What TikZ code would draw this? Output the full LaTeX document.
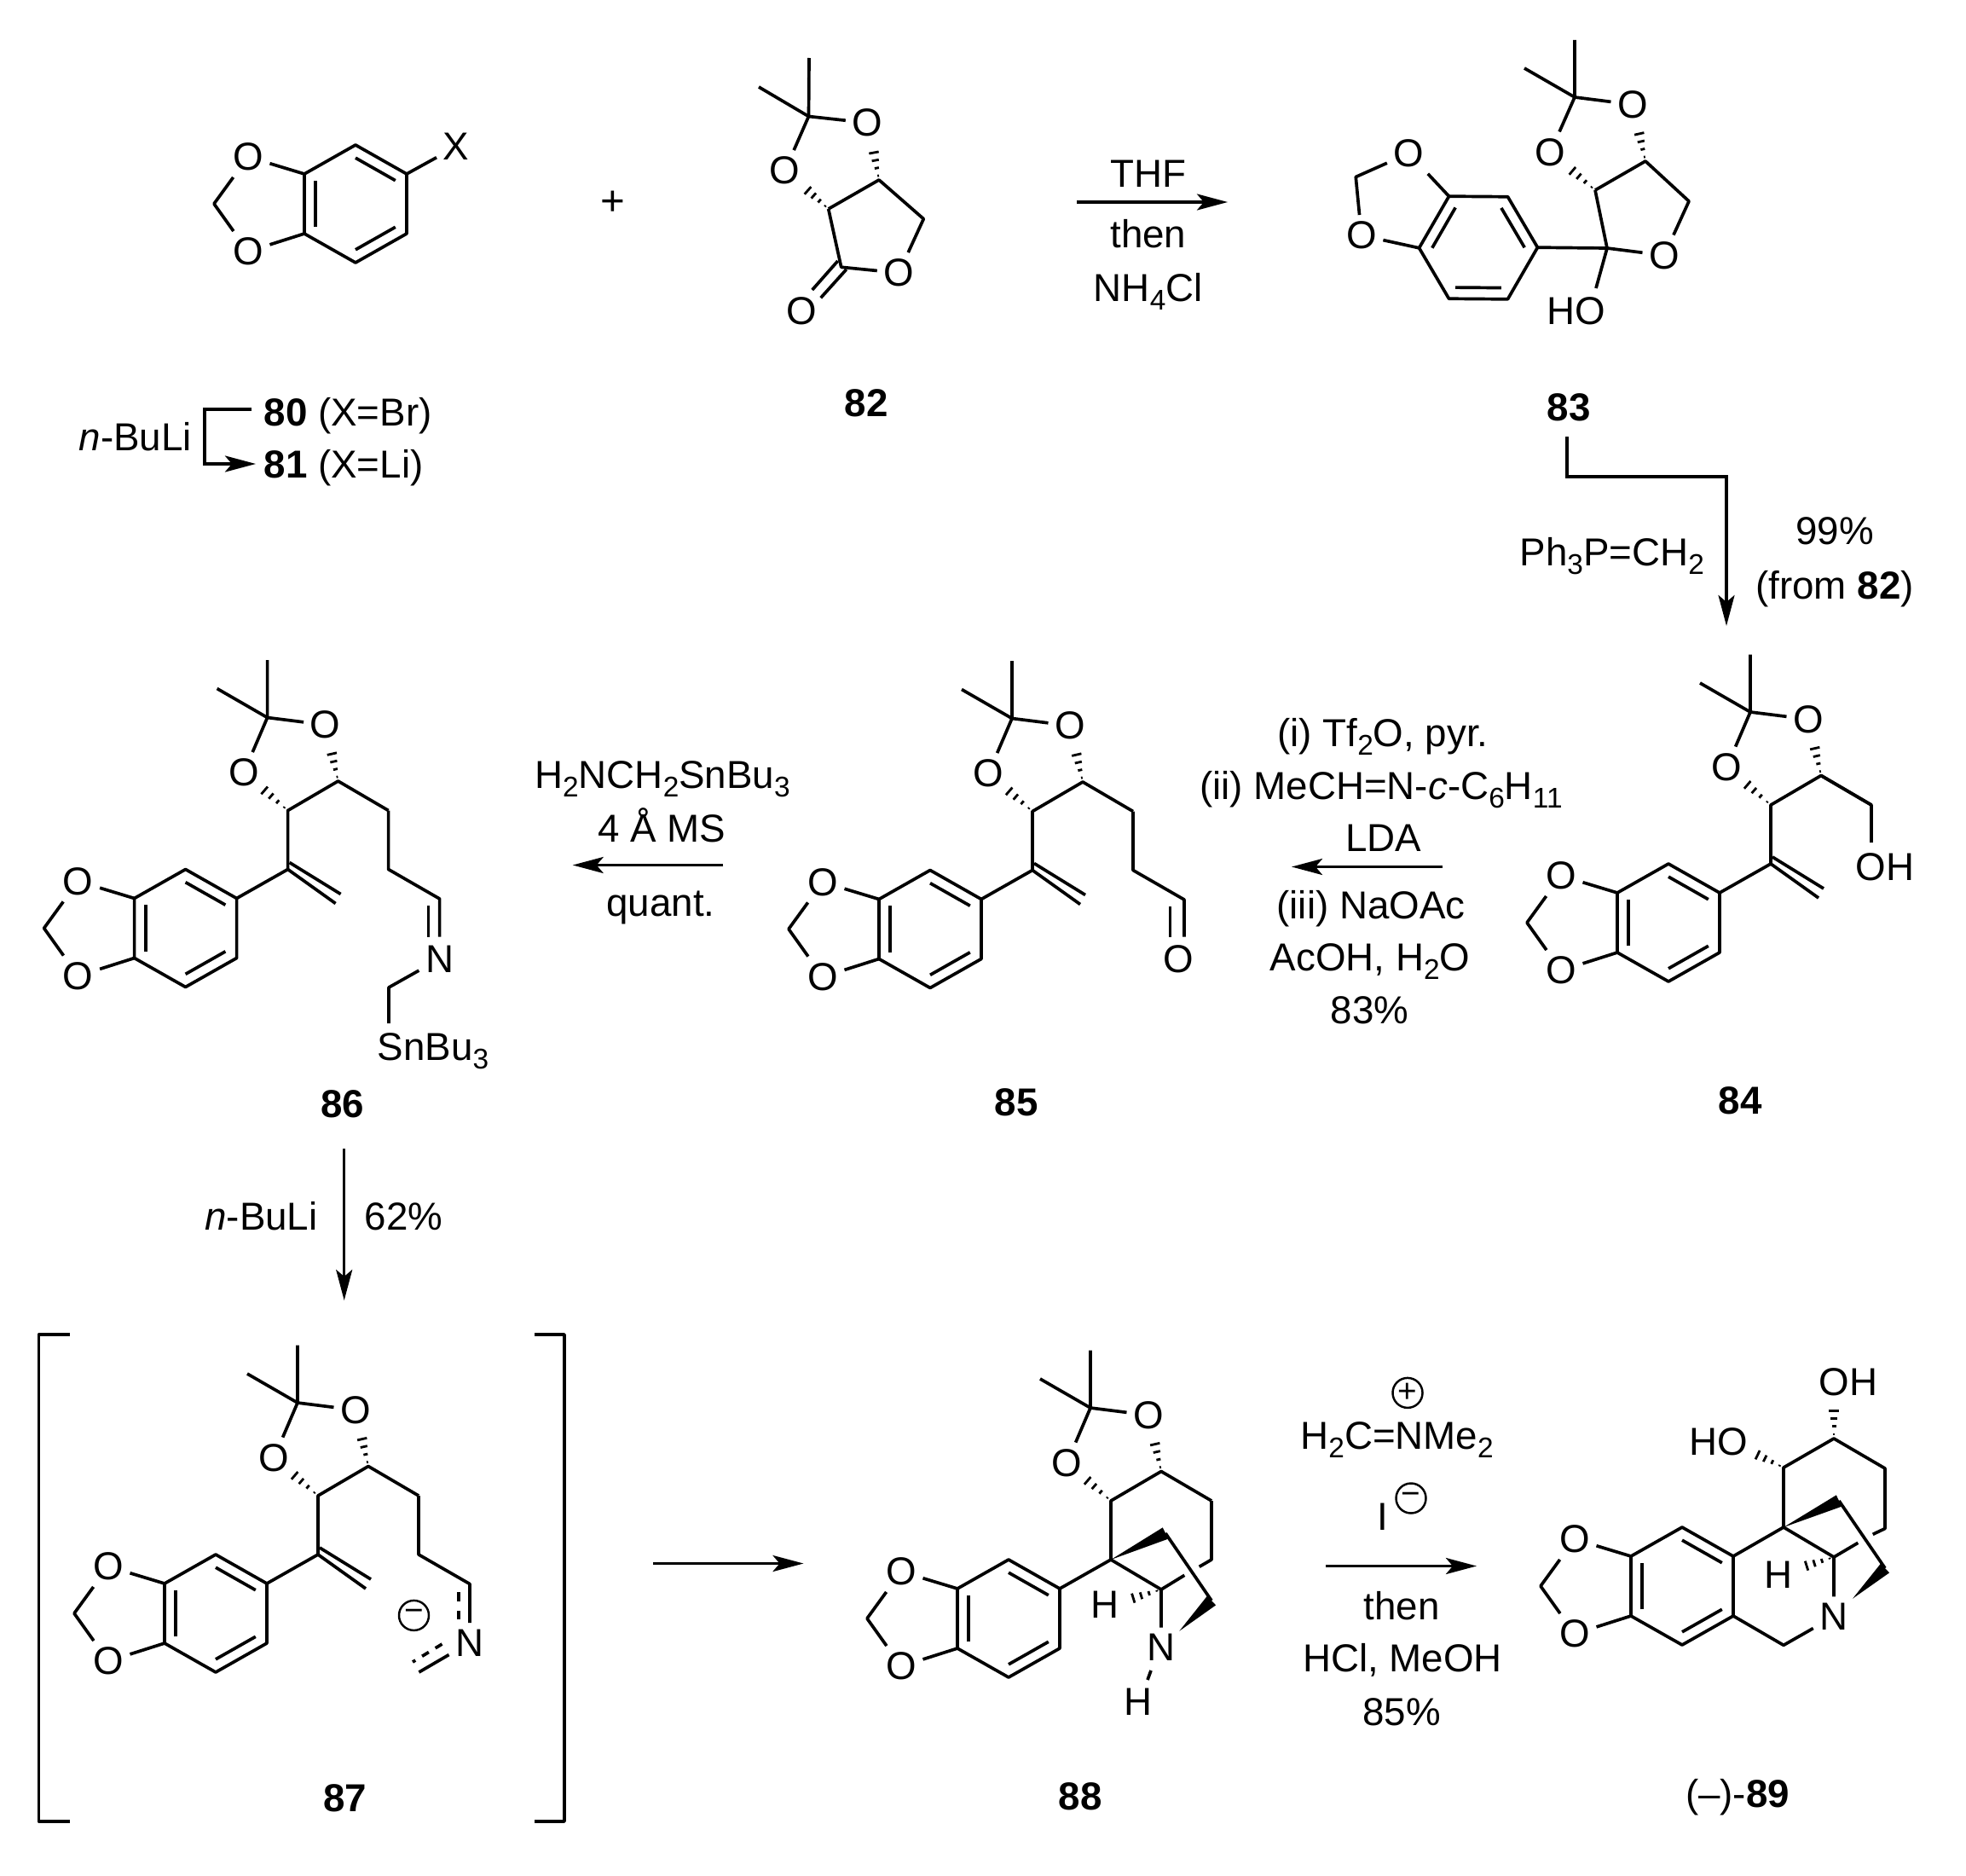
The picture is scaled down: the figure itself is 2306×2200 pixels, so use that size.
\documentclass[tikz,border=0pt]{standalone}
\usepackage{fontspec}
\setmainfont{Liberation Sans}
\usetikzlibrary{arrows.meta,calc}

\newcommand{\dn}[1]{\raisebox{-0.42ex}{\fontsize{9.5}{10}\selectfont #1}}
\newcommand{\hashb}[2]{%
  \foreach \t [evaluate=\t as \w using \t*2.1] in {0.12,0.34,0.56,0.78,1}{%
    \draw[line width=0.8pt] ($#1!\t!#2!\w pt!90:#2$) -- ($#1!\t!#2!\w pt!-90:#2$);}}
\newcommand{\wedgeb}[2]{\fill #1 -- ($#2!2.1pt!90:#1$) -- ($#2!2.1pt!-90:#1$) -- cycle;}
% name, x, y, rotation
\newcommand{\benzodiox}[4]{%
  \begin{scope}[shift={(#2,#3)},rotate=#4]
    \coordinate (#1c) at (0,0);
    \coordinate (#1a) at (0,-69);
    \coordinate (#1b) at (60,-35);
    \coordinate (#1d) at (60,35);
    \coordinate (#1e) at (0,69);
    \coordinate (#1f) at (-60,35);
    \coordinate (#1g) at (-60,-35);
    \coordinate (#1h) at (-166,0);
    \node[atom] (#1o) at (-126,-55) {O};
    \node[atom] (#1p) at (-126,56) {O};
    \draw[bond] (#1a) -- (#1b) -- (#1d) -- (#1e) -- (#1f) -- (#1g) -- cycle;
    \draw[bond] (#1g) -- (#1o) -- (#1h) -- (#1p) -- (#1f);
    \draw[bond] ($(#1a)!.22!(#1c)$) -- ($(#1b)!.22!(#1c)$);
    \draw[bond] ($(#1d)!.22!(#1c)$) -- ($(#1e)!.22!(#1c)$);
    \draw[bond] ($(#1f)!.22!(#1c)$) -- ($(#1g)!.22!(#1c)$);
  \end{scope}}
% ring plus acetonide, name, x, y
\newcommand{\core}[3]{%
  \benzodiox{#1}{#2}{#3}{0}
  \begin{scope}[shift={(#2,#3)}]
    \coordinate (#1s) at (120,-69);
    \coordinate (#1u) at (120,-138);
    \coordinate (#1v) at (179,-172.5);
    \coordinate (#1q) at (96,-247);
    \coordinate (#1w) at (238,-138);
    \coordinate (#1x) at (238,-69);
    \coordinate (#1y) at (298,-34.5);
    \node[atom] (#1k) at (68.4,-182.5) {O};
    \node[atom] (#1m) at (164,-238.5) {O};
    \coordinate (#1ke) at ($(#1u)!.68!(#1k)$);
    \coordinate (#1me) at ($(#1v)!.62!(#1m)$);
    \draw[bond] (96,-314.5) -- (#1q) -- (#1m);
    \draw[bond] (37,-281) -- (#1q) -- (#1k);
    \draw[bond] (#1b) -- (#1s) -- (#1u) -- (#1v) -- (#1w);
    \hashb{(#1u)}{(#1ke)}
    \hashb{(#1v)}{(#1me)}
  \end{scope}}
\newcommand{\vinyl}[1]{%
  \draw[bond] (#1s) -- ++(56,40);
  \draw[bond] ($(#1s)+(2,-8)$) -- ++(60,37);}

\begin{document}
\begin{tikzpicture}[
  x=0.01cm,y=-0.01cm,
  bond/.style={line width=1.05pt,line join=round},
  atom/.style={font=\fontsize{13}{15}\selectfont,inner sep=2pt},
  txt/.style={font=\fontsize{13}{15}\selectfont,inner sep=0pt,anchor=base},
  lbl/.style={font=\fontsize{13}{15}\selectfont\bfseries,inner sep=0pt,anchor=base},
  chg/.style={draw,circle,line width=0.7pt,inner sep=0pt,minimum size=0.35cm,font=\fontsize{11}{11}\selectfont},
  rxn/.style={line width=1pt,-{Stealth[length=0.36cm,width=0.19cm,inset=0.08cm]}}
]
\useasboundingbox (0,0) rectangle (2306,2200);

% 80 / 81
\benzodiox{ra}{417}{239}{0}
\node[atom] (xa) at (535,172) {X};
\draw[bond] (rab) -- (xa);
\node[txt,anchor=base west] (lbl80) at (309,499) {\textbf{80} (X=Br)};
\node[txt,anchor=base west] (lbl81) at (309,560) {\textbf{81} (X=Li)};
\node[txt,anchor=base west] (buli) at (92,528) {\textit{n}-BuLi};
\coordinate (e1) at (295,480);
\coordinate (e2) at (240,480);
\coordinate (e3) at (240,544);
\coordinate (e4) at (300,544);
\draw[rxn] (e1) -- (e2) -- (e3) -- (e4);
\node[txt] (plus) at (718.7,252) {\fontsize{14}{15}\selectfont +};

% 82
\coordinate (bq) at (948.5,136.5);
\coordinate (bu) at (971.7,245);
\coordinate (bv) at (1031,211);
\coordinate (bw) at (1083.3,256.7);
\coordinate (bc) at (986.7,313.3);
\node[atom] (bo1) at (920.7,200) {O};
\node[atom] (bo2) at (1017.3,144) {O};
\node[atom] (bo3) at (1054.3,320) {O};
\node[atom] (bo4) at (940,365) {O};
\coordinate (bo1e) at (940.7,217.3);
\coordinate (bo2e) at (1023.3,170);
\draw[bond] (949,68) -- (bq) -- (bo2);
\draw[bond] (890,102) -- (bq) -- (bo1);
\draw[bond] (bu) -- (bv) -- (bw) -- (bo3) -- (bc) -- (bu);
\draw[bond] (982.7,306) -- (952.7,340);
\draw[bond] (992.7,316) -- (962.7,349.3);
\hashb{(bu)}{(bo1e)}
\hashb{(bv)}{(bo2e)}
\node[lbl] (lbl82) at (1016,488.5) {82};

% THF step
\coordinate (a1s) at (1263,237);
\coordinate (a1e) at (1440,237);
\draw[rxn] (a1s) -- (a1e);
\node[txt] (thf) at (1346.8,220) {THF};
\node[txt] (then1) at (1346.8,291) {then};
\node[txt] (nh4) at (1346.8,353) {NH\dn{4}Cl};

% 83
\benzodiox{rc}{1734}{290.5}{-30}
\coordinate (cq) at (1847,114);
\coordinate (cu) at (1871,223);
\coordinate (cv) at (1930,189);
\coordinate (cw) at (1981,236);
\coordinate (cc) at (1885,291);
\coordinate (ce) at (1872,338);
\node[atom] (co1) at (1818.5,178.4) {O};
\node[atom] (co2) at (1915,122.6) {O};
\node[atom] (co3) at (1952,299.5) {O};
\node[atom] (coh) at (1848.7,365) {HO};
\coordinate (co1e) at ($(cu)!.65!(co1)$);
\coordinate (co2e) at ($(cv)!.62!(co2)$);
\draw[bond] (1847,47) -- (cq) -- (co2);
\draw[bond] (1788,80) -- (cq) -- (co1);
\draw[bond] (cu) -- (cv) -- (cw) -- (co3) -- (cc) -- (cu);
\draw[bond] (rcb) -- (cc) -- (ce);
\hashb{(cu)}{(co1e)}
\hashb{(cv)}{(co2e)}
\node[lbl] (lbl83) at (1840,493.5) {83};

% 83 to 84
\coordinate (a2s) at (1838,512);
\coordinate (a2m) at (1838,559);
\coordinate (a2n) at (2025,559);
\coordinate (a2e) at (2025,734);
\draw[rxn] (a2s) -- (a2m) -- (a2n) -- (a2e);
\node[txt] (wit) at (1890.7,663) {Ph\dn{3}P=CH\dn{2}};
\node[txt] (y99) at (2152,638) {99\%};
\node[txt] (from82) at (2152,702) {(from \textbf{82})};

% 84
\core{rd}{1957}{1082}
\vinyl{rd}
\node[atom] (doh) at (2211,1017) {OH};
\draw[bond] (rdv) -- (2195,944) -- (2195,988);
\node[lbl] (lbl84) at (2041,1306) {84};

% 84 to 85
\coordinate (a3s) at (1692,1016.5);
\coordinate (a3e) at (1515,1016.5);
\draw[rxn] (a3s) -- (a3e);
\node[txt] (r1) at (1622,875) {(i) Tf\dn{2}O, pyr.};
\node[txt] (r2) at (1620,937) {(ii) MeCH=N-\textit{c}-C\dn{6}H\dn{11}};
\node[txt] (r3) at (1622.5,998) {LDA};
\node[txt] (r4) at (1608,1077) {(iii) NaOAc};
\node[txt] (r5) at (1607,1138) {AcOH, H\dn{2}O};
\node[txt] (r6) at (1606.5,1200) {83\%};

% 85
\core{re}{1091}{1089.5}
\vinyl{re}
\node[atom] (eo) at (1382,1124.5) {O};
\draw[bond] (rew) -- (rex) -- (rey) -- ++(0,43.5);
\draw[bond] ($(rey)+(-16.5,8)$) -- ++(0,36);
\node[lbl] (lbl85) at (1192,1308) {85};

% 85 to 86
\coordinate (a4s) at (848.3,1014.5);
\coordinate (a4e) at (671.7,1014.5);
\draw[rxn] (a4s) -- (a4e);
\node[txt] (s1) at (777,924) {H\dn{2}NCH\dn{2}SnBu\dn{3}};
\node[txt] (s2) at (776,987) {4 Å MS};
\node[txt] (s3) at (775,1074) {quant.};

% 86
\core{rf}{217.6}{1088.5}
\vinyl{rf}
\node[atom] (fn) at (515.6,1124.5) {N};
\coordinate (fz) at (456,1158);
\node[txt,anchor=base west] (fsn) at (442,1243) {SnBu\dn{3}};
\draw[bond] (rfw) -- (rfx) -- (rfy) -- ++(0,44.5);
\draw[bond] ($(rfy)+(-13,8)$) -- ++(0,37);
\draw[bond] (fn) -- (fz) -- ++(0,42);
\node[lbl] (lbl86) at (401.5,1310) {86};

% 86 to 87
\coordinate (a5s) at (403.7,1347);
\coordinate (a5e) at (403.7,1525);
\draw[rxn] (a5s) -- (a5e);
\node[txt] (buli2) at (306.5,1442) {\textit{n}-BuLi};
\node[txt] (y62) at (473.7,1442) {62\%};

% 87
\coordinate (bl1) at (82,1565);
\coordinate (bl2) at (45.5,1565);
\coordinate (bl3) at (45.5,2136);
\coordinate (bl4) at (82,2136);
\coordinate (br1) at (627,1565);
\coordinate (br2) at (662,1565);
\coordinate (br3) at (662,2136);
\coordinate (br4) at (627,2136);
\draw[bond] (bl1) -- (bl2) -- (bl3) -- (bl4);
\draw[bond] (br1) -- (br2) -- (br3) -- (br4);
\core{rg}{253}{1892}
\vinyl{rg}
\node[atom] (gn) at (550.8,1926.4) {N};
\draw[bond] (rgw) -- (rgx) -- (rgy) -- ++(0,45.5);
\draw[bond,dash pattern=on 3pt off 3.2pt] ($(rgy)+(-13,9.5)$) -- ++(0,36);
\draw[bond] (gn) -- (491.4,1961);
\draw[bond,dash pattern=on 2.6pt off 2.6pt] (518.5,1928) -- (484,1949);
\node[chg] (gm) at (485.5,1894.4) {−};
\node[lbl] (lbl87) at (404.5,2124) {87};

% 87 to 88
\coordinate (a6s) at (766,1833.5);
\coordinate (a6e) at (942.5,1833.5);
\draw[rxn] (a6s) -- (a6e);

% 88
\core{rh}{1183}{1898}
\coordinate (hb) at (1367,1798);
\coordinate (hc) at (1362,1864);
\coordinate (hd) at (1421,1877);
\coordinate (hg) at (1406.7,1837.3);
\coordinate (hi) at (1389.3,1847.3);
\coordinate (hj) at (1320,1877);
\coordinate (hk) at (1383.3,1912.7);
\coordinate (hm) at (1350,1959);
\coordinate (hl) at (1346,1970);
\node[atom] (hn) at (1362,1932) {N};
\node[atom] (hh) at (1295.7,1881.7) {H};
\node[atom] (hh2) at (1335,1996) {H};
\draw[bond] (rhw) -- (rhx) -- (hg);
\draw[bond] (hi) -- (hc);
\draw[bond] (rhs) -- (hc) -- (hn);
\draw[bond] (hb) -- (hd);
\draw[bond] (hm) -- (hl);
\wedgeb{(rhs)}{(hb)}
\wedgeb{(hk)}{(hd)}
\hashb{(hc)}{(hj)}
\node[lbl] (lbl88) at (1267,2122) {88};

% 88 to 89
\coordinate (a7s) at (1555,1836.5);
\coordinate (a7e) at (1732,1836.5);
\draw[rxn] (a7s) -- (a7e);
\node[chg] (tp) at (1651,1633.4) {+};
\node[txt] (t1) at (1638.6,1699) {H\dn{2}C=NMe\dn{2}};
\node[txt] (t2) at (1622,1794) {I};
\node[chg] (tm) at (1655,1757) {−};
\node[txt] (t3) at (1644,1899) {then};
\node[txt] (t4) at (1645,1960) {HCl, MeOH};
\node[txt] (t5) at (1644,2023) {85\%};

% 89
\benzodiox{ri}{1973}{1860}{0}
\coordinate (is) at (2092,1791);
\coordinate (iu) at (2092,1721);
\coordinate (iv) at (2151,1687);
\coordinate (iw) at (2211,1722);
\coordinate (ix) at (2211,1792.5);
\coordinate (ig) at (2196.7,1799.3);
\coordinate (ii) at (2179.3,1809.3);
\coordinate (ic) at (2151,1826);
\coordinate (ib) at (2157,1760);
\coordinate (id) at (2211,1839);
\coordinate (ik) at (2092,1929.3);
\coordinate (il) at (2173,1874.7);
\coordinate (ihe) at (2110,1839);
\coordinate (ioh) at (2151,1645);
\coordinate (ihoe) at (2053,1702);
\node[atom] (in) at (2151,1895.7) {N};
\node[atom] (ih) at (2086,1847) {H};
\node[atom] (iho) at (2016,1690.7) {HO};
\node[atom] (ioh2) at (2168,1621) {OH};
\draw[bond] (rib) -- (is) -- (iu) -- (iv) -- (iw) -- (ix) -- (ig);
\draw[bond] (ii) -- (ic);
\draw[bond] (is) -- (ic) -- (in);
\draw[bond] (ib) -- (id);
\draw[bond] (rid) -- (ik) -- (in);
\wedgeb{(is)}{(ib)}
\wedgeb{(il)}{(id)}
\hashb{(ic)}{(ihe)}
\hashb{(iv)}{(ioh)}
\hashb{(iu)}{(ihoe)}
\node[txt] (lbl89) at (2038,2119) {(–)-\textbf{89}};
\end{tikzpicture}
\end{document}
